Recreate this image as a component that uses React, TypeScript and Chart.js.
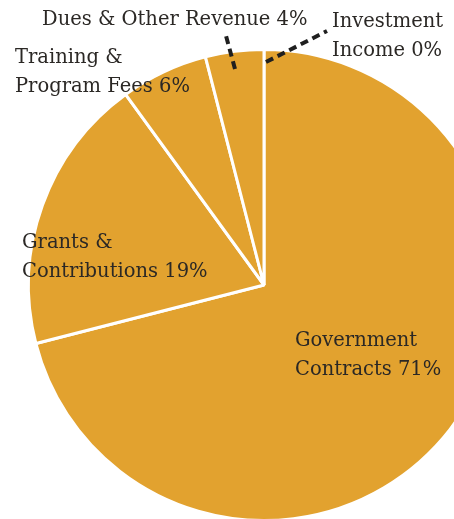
import React, { useEffect, useRef } from "react";
import { Chart, registerables } from "chart.js";

Chart.register(...registerables);

const categories = [
  "Government Contracts",
  "Grants & Contributions",
  "Training & Program Fees",
  "Dues & Other Revenue",
  "Investment Income",
];
const values = [71, 19, 6, 4, 0];
const labelLines = [
  ["Government", "Contracts 71%"],
  ["Grants &", "Contributions 19%"],
  ["Training &", "Program Fees 6%"],
  ["Dues & Other Revenue 4%"],
  ["Investment", "Income 0%"],
];

// label positions relative to the pie centre (px), first baseline
const labelOffsets = [
  [31, 61],
  [-242, -37],
  [-249, -222],
  [-222, -260],
  [68, -258],
];
// dashed leaders: [x1,y1,x2,y2] relative to centre, null = none
const leaders: (number[] | null)[] = [
  null,
  null,
  null,
  [-29, -216, -39, -253],
  [2, -223, 63, -254],
];

const FONT = '19.5px "DejaVu Serif"';
const TEXT_COLOR = "#2b2825";
const LINE_H = 29;

const labelPlugin = {
  id: "pieLabels",
  afterDraw(chart: any) {
    const meta = chart.getDatasetMeta(0);
    const arc = meta.data[0];
    if (!arc) return;
    const cx = arc.x;
    const cy = arc.y;
    const ctx = chart.ctx;
    ctx.save();
    ctx.strokeStyle = "#1f1f1f";
    ctx.lineWidth = 4;
    ctx.setLineDash([8, 5]);
    leaders.forEach((l) => {
      if (!l) return;
      ctx.beginPath();
      ctx.moveTo(cx + l[0], cy + l[1]);
      ctx.lineTo(cx + l[2], cy + l[3]);
      ctx.stroke();
    });
    ctx.setLineDash([]);
    ctx.font = FONT;
    ctx.fillStyle = TEXT_COLOR;
    ctx.textBaseline = "alphabetic";
    ctx.textAlign = "left";
    labelLines.forEach((lines, i) => {
      const [ox, oy] = labelOffsets[i];
      lines.forEach((t, j) => {
        ctx.fillText(t, cx + ox, cy + oy + j * LINE_H);
      });
    });
    ctx.restore();
  },
};

export default function App() {
  const ref = useRef<HTMLCanvasElement>(null);
  useEffect(() => {
    if (!ref.current) return;
    const chart = new Chart(ref.current, {
      type: "pie",
      data: {
        labels: categories,
        datasets: [
          {
            data: values,
            backgroundColor: "#E2A22F",
            borderColor: "#ffffff",
            borderWidth: 3,
          },
        ],
      },
      options: {
        responsive: false,
        animation: false,
        layout: { padding: { left: 27, top: 48, right: 0, bottom: 0 } },
        plugins: {
          legend: { display: false },
          tooltip: { enabled: false },
        },
      },
      plugins: [labelPlugin],
    });
    return () => chart.destroy();
  }, []);
  return (
    <div
      style={{
        position: "fixed",
        left: 0,
        top: 0,
        width: 454,
        height: 519,
        overflow: "hidden",
        background: "#fff",
      }}
    >
      <canvas ref={ref} width={501} height={522} style={{ width: 501, height: 522, display: "block" }} />
    </div>
  );
}
